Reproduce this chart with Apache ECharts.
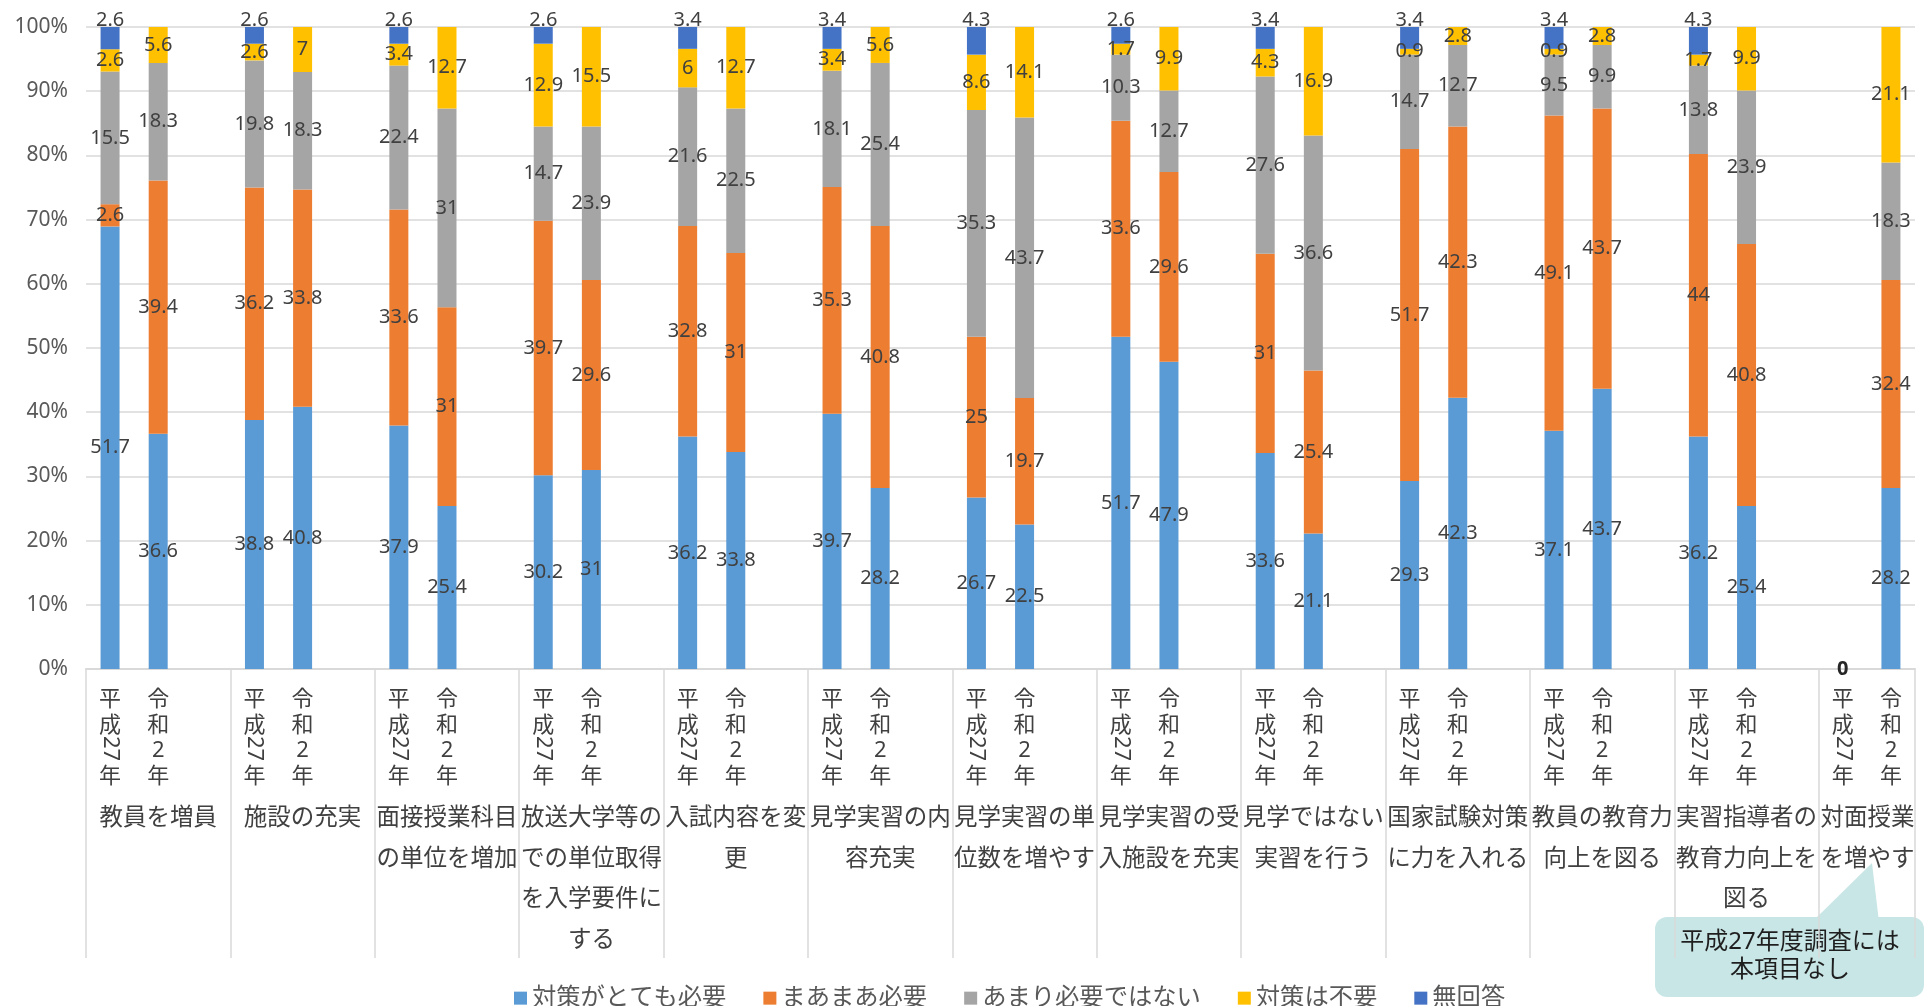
<!DOCTYPE html>
<html lang="ja">
<head>
<meta charset="utf-8">
<title>対策の必要性（平成27年・令和2年）</title>
<script src="https://cdn.jsdelivr.net/npm/echarts@6/dist/echarts.min.js"></script>
<style>
  html, body { margin: 0; padding: 0; background: #ffffff; }
  #chart { width: 1931px; height: 1006px; }
</style>
</head>
<body>
<div id="chart"></div>
<script>
// 対策項目（グループ名、表示どおりの改行位置）
const groups = [
  '教員を増員',
  '施設の充実',
  '面接授業科目\nの単位を増加',
  '放送大学等の\nでの単位取得\nを入学要件に\nする',
  '入試内容を変\n更',
  '見学実習の内\n容充実',
  '見学実習の単\n位数を増やす',
  '見学実習の受\n入施設を充実',
  '見学ではない\n実習を行う',
  '国家試験対策\nに力を入れる',
  '教員の教育力\n向上を図る',
  '実習指導者の\n教育力向上を\n図る',
  '対面授業\nを増やす'
];

// 調査年
const years = ['平成27年', '令和2年'];

// 回答区分
const seriesNames = ['対策がとても必要', 'まあまあ必要', 'あまり必要ではない', '対策は不要', '無回答'];

// 各項目の回答（%）：グループごとに [平成27年, 令和2年]
const veryNeeded = [51.7, 36.6, 38.8, 40.8, 37.9, 25.4, 30.2, 31, 36.2, 33.8, 39.7, 28.2, 26.7, 22.5, 51.7, 47.9, 33.6, 21.1, 29.3, 42.3, 37.1, 43.7, 36.2, 25.4, 0, 28.2];
const somewhatNeeded = [2.6, 39.4, 36.2, 33.8, 33.6, 31, 39.7, 29.6, 32.8, 31, 35.3, 40.8, 25, 19.7, 33.6, 29.6, 31, 25.4, 51.7, 42.3, 49.1, 43.7, 44, 40.8, null, 32.4];
const notReallyNeeded = [15.5, 18.3, 19.8, 18.3, 22.4, 31, 14.7, 23.9, 21.6, 22.5, 18.1, 25.4, 35.3, 43.7, 10.3, 12.7, 27.6, 36.6, 14.7, 12.7, 9.5, 9.9, 13.8, 23.9, null, 18.3];
const notNeeded = [2.6, 5.6, 2.6, 7, 3.4, 12.7, 12.9, 15.5, 6, 12.7, 3.4, 5.6, 8.6, 14.1, 1.7, 9.9, 4.3, 16.9, 0.9, 2.8, 0.9, 2.8, 1.7, 9.9, null, 21.1];
const noAnswer = [2.6, null, 2.6, null, 2.6, null, 2.6, null, 3.4, null, 3.4, null, 4.3, null, 2.6, null, 3.4, null, 3.4, null, 3.4, null, 4.3, null, null, null];

// y軸目盛り
const yTicks = [0, 10, 20, 30, 40, 50, 60, 70, 80, 90, 100];

const colors = ['#5B9BD5', '#ED7D31', '#A5A5A5', '#FFC000', '#4472C4'];
const rawSeries = [veryNeeded, somewhatNeeded, notReallyNeeded, notNeeded, noAnswer];

const FONT = "'Noto Sans', 'Noto Sans CJK JP', sans-serif";
const TEXT = '#404040';

// 各グループは「平成27年・令和2年・空き」の3枠。最後のグループだけ空き枠なし
const slotCats = [];      // 年ラベル
const slotGroups = [];    // グループ名（中央枠に配置）
const slotIndex = [];     // 元データの位置（空き枠は -1）
groups.forEach((g, gi) => {
  const last = gi === groups.length - 1;
  years.forEach((y, yi) => {
    slotCats.push(y);
    slotIndex.push(gi * 2 + yi);
    slotGroups.push(yi === 1 ? g : '');
  });
  if (!last) {
    slotCats.push('');
    slotIndex.push(-1);
    slotGroups.push('');
  }
});
const LAST_LABEL_SLOT = slotCats.length - 1;

// 100%積み上げ：各棒の合計で割った構成比
const totals = years.length * groups.length;
const barTotals = [];
for (let i = 0; i < totals; i++) {
  let s = 0;
  rawSeries.forEach(arr => { if (arr[i] != null) s += arr[i]; });
  barTotals.push(s);
}

function shareData(arr) {
  return slotIndex.map(k => {
    if (k < 0 || arr[k] == null) return '-';
    const t = barTotals[k];
    return t > 0 ? arr[k] / t * 100 : 0;
  });
}

// 縦書きの年ラベル（2桁以上の数字は別軸で横倒しに描く）
function verticalYear(text) {
  if (!text) return '';
  const tokens = text.match(/\d+|./g);
  return tokens.map(t => (/^\d{2,}$/.test(t) ? ' ' : t)).join('\n');
}
function rotatedDigits(text) {
  const m = text ? text.match(/\d{2,}/) : null;
  return m ? m[0] : '';
}

const series = rawSeries.map((arr, si) => {
  const isTop = si === rawSeries.length - 1;
  return {
    name: seriesNames[si],
    type: 'bar',
    stack: 'total',
    xAxisIndex: 0,
    barWidth: 19,
    itemStyle: { color: colors[si] },
    emphasis: { disabled: true },
    data: shareData(arr).map((v, slot) => {
      const k = slotIndex[slot];
      const item = { value: v };
      if (k >= 0 && arr[k] === 0) {
        item.label = { color: '#262626', fontWeight: 'bold' };
      }
      return item;
    }),
    label: {
      show: true,
      position: isTop ? 'top' : 'inside',
      distance: isTop ? -3 : 5,
      color: TEXT,
      fontFamily: FONT,
      fontSize: 20,
      formatter: p => {
        const k = slotIndex[p.dataIndex];
        if (k < 0 || arr[k] == null) return '';
        return String(arr[k]);
      }
    }
  };
});

const chart = echarts.init(document.getElementById('chart'), null, { renderer: 'canvas' });

chart.setOption({
  animation: false,
  backgroundColor: '#ffffff',
  textStyle: { fontFamily: FONT },
  grid: { left: 86, right: 16, top: 27, bottom: 337, containLabel: false, outerBoundsMode: 'none' },
  legend: {
    data: seriesNames,
    left: 509,
    top: 981,
    icon: 'rect',
    itemWidth: 13,
    itemHeight: 13,
    itemGap: 37,
    selectedMode: false,
    textStyle: { color: '#595959', fontSize: 24.3, fontFamily: FONT }
  },
  yAxis: {
    type: 'value',
    min: yTicks[0],
    max: yTicks[yTicks.length - 1],
    interval: yTicks[1] - yTicks[0],
    axisLine: { show: false },
    axisTick: { show: false },
    axisLabel: {
      formatter: '{value}%',
      color: '#595959',
      fontSize: 21,
      fontFamily: FONT,
      margin: 18
    },
    splitLine: { lineStyle: { color: '#D9D9D9', width: 1.5 } }
  },
  xAxis: [
    {
      type: 'category',
      data: slotCats,
      position: 'bottom',
      axisLine: { lineStyle: { color: '#D9D9D9', width: 2 } },
      axisTick: {
        show: true,
        interval: (i) => i % 3 === 0,
        length: 289,
        lineStyle: { color: '#D9D9D9', width: 1.5 }
      },
      axisLabel: {
        interval: 0,
        margin: 18,
        color: TEXT,
        fontSize: 22,
        lineHeight: 25.5,
        fontFamily: FONT,
        formatter: verticalYear
      },
      splitLine: { show: false }
    },
    {
      type: 'category',
      data: slotGroups,
      position: 'bottom',
      axisLine: { show: false },
      axisTick: { show: false },
      axisLabel: {
        interval: 0,
        margin: 129,
        color: TEXT,
        fontSize: 23.5,
        lineHeight: 40.6,
        fontFamily: FONT,
        formatter: (value, index) => {
          if (index !== LAST_LABEL_SLOT) return value;
          // 2枠しかない最後のグループは枠の中央に寄せる
          return value.split('\n').map(l => '{shift|' + l + '}').join('\n');
        },
        rich: {
          shift: {
            padding: [0, 47, 0, 0],
            color: TEXT,
            fontSize: 23.5,
            lineHeight: 40.6,
            fontFamily: FONT
          }
        }
      }
    },
    {
      type: 'category',
      data: slotCats,
      position: 'bottom',
      axisLine: { show: false },
      axisTick: { show: false },
      axisLabel: {
        interval: 0,
        rotate: -90,
        margin: 67,
        color: TEXT,
        fontSize: 22,
        fontFamily: FONT,
        formatter: rotatedDigits
      }
    }
  ],
  series: series,
  graphic: [
    {
      type: 'group',
      silent: true,
      children: [
        {
          type: 'rect',
          shape: { x: 1655, y: 917, width: 269, height: 80, r: 12 },
          style: { fill: '#C9E6E6' }
        },
        {
          type: 'polygon',
          shape: { points: [[1812, 922], [1872, 863], [1879, 922]] },
          style: { fill: '#C9E6E6' }
        },
        {
          type: 'text',
          x: 1790,
          y: 956,
          style: {
            text: '平成27年度調査には\n本項目なし',
            fill: '#1F1F1F',
            font: "24px 'Noto Sans', 'Noto Sans CJK JP', sans-serif",
            lineHeight: 28,
            align: 'center',
            verticalAlign: 'middle'
          }
        }
      ]
    }
  ]
});
</script>
</body>
</html>
